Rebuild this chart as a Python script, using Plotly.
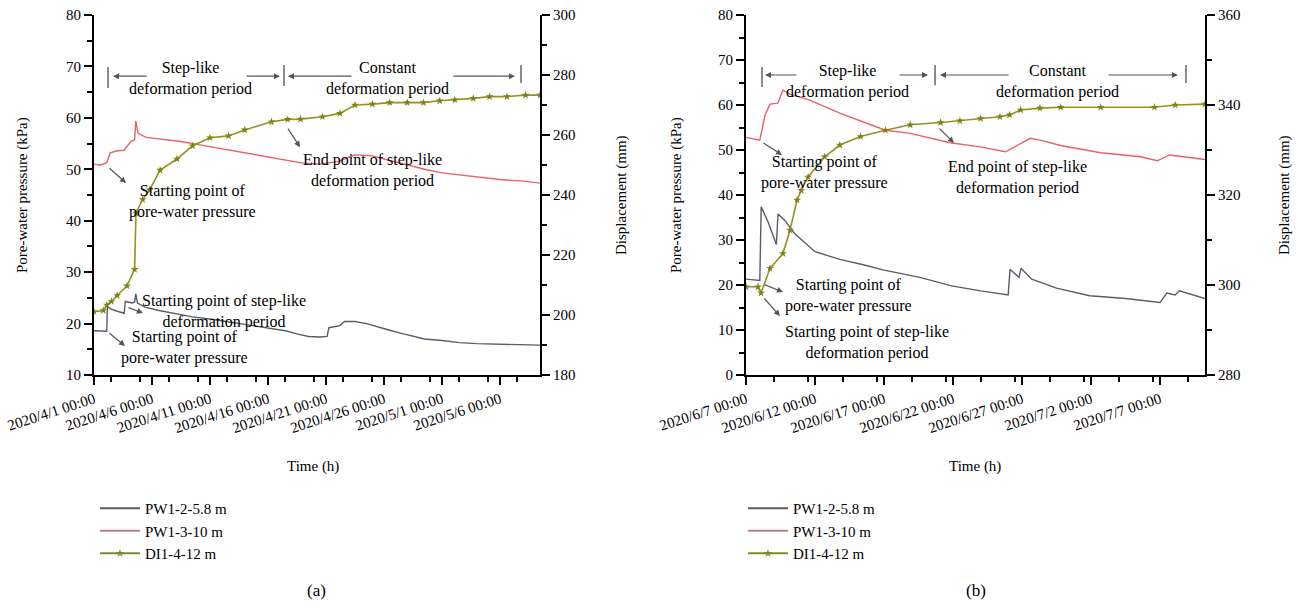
import pandas as pd
import plotly.graph_objects as go

# ---------------- data (elapsed days from panel start, values) ----------------
start_a = "2020-04-01 00:00"
end_a_days = 38.45
start_b = "2020-06-07 00:00"
end_b_days = 33.26

# Panel (a)
pw12_a_days = [0, 1.1, 1.15, 1.5, 2.0, 2.6, 2.7, 3.3, 3.5, 3.6, 3.75, 4.4, 5.5, 7, 8.5, 10, 11.5, 13, 15,
               16.5, 17.5, 18.5, 19.5, 20.1, 20.25, 21.2, 21.6, 22.5, 23.5, 24.5, 25.5, 26.5, 27.5, 28.5,
               30, 31.5, 33, 35, 37, 38.45]
pw12_a_kpa = [18.6, 18.5, 23.3, 22.8, 22.4, 22.0, 24.3, 24.0, 24.2, 25.8, 24.0, 23.2, 22.6, 22.0, 21.3, 20.9,
              20.4, 19.8, 19.2, 18.6, 18.0, 17.5, 17.4, 17.5, 19.2, 19.6, 20.4, 20.4, 20.0, 19.3, 18.7, 18.1,
              17.6, 17.0, 16.7, 16.3, 16.1, 16.0, 15.9, 15.8]

pw13_a_days = [0, 0.5, 1.1, 1.4, 2.0, 2.6, 3.2, 3.5, 3.6, 3.8, 4.5, 6, 7.5, 9, 10.5, 12, 13.5, 15, 16.5, 18,
               19.5, 21, 22.5, 24, 25.5, 27, 28.5, 30, 31.5, 33, 35, 37, 38.45]
pw13_a_kpa = [51.0, 50.8, 51.3, 53.2, 53.6, 53.7, 55.5, 55.7, 59.4, 57.0, 56.2, 55.8, 55.4, 54.8, 54.2, 53.6,
              53.0, 52.5, 51.8, 51.2, 51.0, 51.5, 52.8, 52.6, 51.7, 50.8, 50.0, 49.3, 48.9, 48.5, 48.0, 47.7,
              47.3]

di14_a_days = [0, 0.8, 1.1, 1.5, 2.0, 2.84, 3.5, 3.62, 4.2, 4.8, 5.7, 7.15, 8.5, 10, 11.6, 13, 15.3, 16.7,
               17.8, 19.7, 21.2, 22.5, 24, 25.5, 27, 28.4, 29.8, 31.1, 32.7, 34.1, 35.6, 37.2, 38.45]
di14_a_mm = [201.1, 201.5, 203.3, 204.5, 206.5, 209.7, 215.2, 234.0, 238.5, 241.7, 248.3, 252.0, 256.4, 259.1,
             259.7, 261.7, 264.4, 265.2, 265.3, 266.1, 267.2, 270.0, 270.3, 270.8, 270.8, 270.8, 271.4, 271.7,
             272.2, 272.8, 272.8, 273.3, 273.3]

# Panel (b)
pw12_b_days = [0, 1.0, 1.1, 1.6, 2.2, 2.32, 2.8, 3.5, 5, 6.8, 8.5, 10, 12.6, 14.9, 17, 18.0, 19.0, 19.13,
               19.78, 19.93, 20.7, 22.5, 24.9, 27.5, 29.6, 30.0, 30.5, 31.1, 31.4, 33.26]
pw12_b_kpa = [21.3, 21.0, 37.4, 34.0, 29.0, 35.8, 34.4, 31.5, 27.4, 25.7, 24.5, 23.3, 21.7, 19.8, 18.7, 18.2,
              17.8, 23.5, 21.7, 23.7, 21.3, 19.3, 17.6, 17.0, 16.3, 16.1, 18.2, 17.8, 18.7, 17.0]

pw13_b_days = [0, 1.0, 1.38, 1.74, 2.3, 2.68, 3.2, 4.6, 6.8, 9.0, 10.1, 11.9, 14.8, 17.0, 18.8, 20.6, 21.3,
               22.8, 25.7, 28.6, 29.8, 30.7, 33.26]
pw13_b_kpa = [52.8, 52.2, 57.8, 60.2, 60.4, 63.3, 62.4, 61.1, 58.2, 55.6, 54.4, 53.7, 51.6, 50.7, 49.6, 52.6,
              52.2, 51.0, 49.4, 48.5, 47.6, 48.9, 47.9]

di14_b_days = [0, 0.87, 1.09, 1.74, 2.68, 3.19, 3.7, 4.0, 4.5, 5.7, 6.8, 8.3, 10.1, 11.9, 14.1, 15.5, 17.0,
               18.4, 19.1, 19.9, 21.3, 22.8, 25.7, 29.6, 31.1, 33.26]
di14_b_mm = [299.6, 299.6, 298.2, 303.7, 307.0, 312.2, 318.9, 321.0, 324.0, 328.5, 331.1, 333.0, 334.4, 335.6,
             336.1, 336.5, 337.0, 337.4, 337.8, 338.9, 339.3, 339.5, 339.5, 339.5, 340.0, 340.2]

series_names = ["PW1-2-5.8 m", "PW1-3-10 m", "DI1-4-12 m"]

# ---------------- helpers ----------------
W, H = 1299, 608
FONT = "Liberation Serif"
TXT = 16
C_GRAY, C_RED, C_OLIVE = "#575d6a", "#e8606c", "#939420"
L_GRAY, L_RED, L_OLIVE = "#5c5c5c", "#b7808e", "#7c8a2c"


def t(base, days):
    return pd.Timestamp(base) + pd.to_timedelta(days, unit="D")


def ts(base, days):
    return t(base, days).strftime("%Y-%m-%d %H:%M:%S")


fig = go.Figure()

# panel a
fig.add_trace(go.Scatter(x=t(start_a, pw12_a_days), y=pw12_a_kpa, mode="lines", line=dict(color=C_GRAY, width=1.4),
                         xaxis="x", yaxis="y", showlegend=False))
fig.add_trace(go.Scatter(x=t(start_a, pw13_a_days), y=pw13_a_kpa, mode="lines", line=dict(color=C_RED, width=1.4),
                         xaxis="x", yaxis="y", showlegend=False))
fig.add_trace(go.Scatter(x=t(start_a, di14_a_days), y=di14_a_mm, mode="lines+markers",
                         line=dict(color=C_OLIVE, width=1.6),
                         marker=dict(symbol="star", size=6, color="#7f7f16"),
                         xaxis="x", yaxis="y2", showlegend=False))
# panel b
fig.add_trace(go.Scatter(x=t(start_b, pw12_b_days), y=pw12_b_kpa, mode="lines", line=dict(color=C_GRAY, width=1.4),
                         xaxis="x2", yaxis="y3", showlegend=False))
fig.add_trace(go.Scatter(x=t(start_b, pw13_b_days), y=pw13_b_kpa, mode="lines", line=dict(color=C_RED, width=1.4),
                         xaxis="x2", yaxis="y3", showlegend=False))
fig.add_trace(go.Scatter(x=t(start_b, di14_b_days), y=di14_b_mm, mode="lines+markers",
                         line=dict(color=C_OLIVE, width=1.6),
                         marker=dict(symbol="star", size=6, color="#7f7f16"),
                         xaxis="x2", yaxis="y4", showlegend=False))

# legend entries
for lg, xa, ya in (("legend", "x", "y"), ("legend2", "x2", "y3")):
    for name, col, mk in zip(series_names, (L_GRAY, L_RED, L_OLIVE), (False, False, True)):
        fig.add_trace(go.Scatter(x=[None], y=[None], name=name, legend=lg, xaxis=xa, yaxis=ya,
                                 mode="lines+markers" if mk else "lines",
                                 line=dict(color=col, width=2),
                                 marker=dict(symbol="star", size=6, color=col)))

ydom = [1 - 375 / H, 1 - 15 / H]
xa_dom = [94 / W, 540 / W]
xb_dom = [746 / W, 1205 / W]

axis_common = dict(showline=True, linecolor="black", linewidth=2, ticks="outside", ticklen=8, tickwidth=2,
                   tickcolor="black", showgrid=False, zeroline=False, automargin=False,
                   tickfont=dict(family=FONT, size=15, color="black"))


def xaxis(dom, base, end_days, anchor):
    return dict(axis_common, domain=dom, anchor=anchor, range=[ts(base, 0), ts(base, end_days)],
                type="date", tick0=ts(base, 0), dtick=5 * 86400000, tickformat="%Y/%-m/%-d %H:%M",
                tickangle=-18,
                minor=dict(dtick=2.5 * 86400000, ticks="outside", ticklen=5, tickwidth=2, tickcolor="black",
                           showgrid=False))


def yaxis(rng, dt, mdt, anchor, **kw):
    return dict(axis_common, range=rng, dtick=dt, tick0=0, anchor=anchor,
                minor=dict(dtick=mdt, ticks="outside", ticklen=5, tickwidth=2, tickcolor="black",
                           showgrid=False), **kw)


leg = dict(xanchor="left", yanchor="top", bgcolor="rgba(0,0,0,0)",
           font=dict(family=FONT, size=15, color="black"), itemwidth=40)

fig.update_layout(
    width=W, height=H,
    margin=dict(l=0, r=0, t=0, b=0),
    paper_bgcolor="white", plot_bgcolor="white",
    font=dict(family=FONT, size=TXT, color="black"),
    xaxis=xaxis(xa_dom, start_a, end_a_days, "y"),
    yaxis=yaxis([10, 80], 10, 5, "x", domain=ydom),
    yaxis2=yaxis([180, 300], 20, 10, "x", overlaying="y", side="right"),
    xaxis2=xaxis(xb_dom, start_b, end_b_days, "y3"),
    yaxis3=yaxis([0, 80], 10, 5, "x2", domain=ydom),
    yaxis4=yaxis([280, 360], 20, 10, "x2", overlaying="y3", side="right"),
    legend=dict(leg, x=95 / W, y=1 - 492 / H),
    legend2=dict(leg, x=743 / W, y=1 - 492 / H),
)

ann = []
shapes = []


def text(xr, yr, x, y, s, **kw):
    ann.append(dict(xref=xr, yref=yr, x=x, y=y, text=s, showarrow=False,
                    font=dict(family=FONT, size=TXT, color="black"), **kw))


def arrow(xr, yr, x0, y0, x1, y1, col="#555555"):
    ann.append(dict(xref=xr, yref=yr, axref=xr, ayref=yr, x=x1, y=y1, ax=x0, ay=y0, text="", showarrow=True,
                    arrowhead=2, arrowsize=1, arrowwidth=1.2, arrowcolor=col))


def bar(xr, yr, x, y0, y1):
    shapes.append(dict(type="line", xref=xr, yref=yr, x0=x, x1=x, y0=y0, y1=y1,
                       line=dict(color="#666666", width=1.5)))


# ---- panel (a) annotations
A = start_a
bar("x", "y", ts(A, 1.21), 65.8, 69.9)
arrow("x", "y", ts(A, 4.66), 68.1, ts(A, 1.64), 68.1)
text("x", "y", ts(A, 8.36), 67.75, "Step-like<br>deformation period")
arrow("x", "y", ts(A, 13.02), 68.1, ts(A, 16.03), 68.1)
bar("x", "y", ts(A, 16.38), 66.2, 70.3)
arrow("x", "y", ts(A, 22.33), 68.1, ts(A, 16.72), 68.1)
text("x", "y", ts(A, 25.34), 67.75, "Constant<br>deformation period")
arrow("x", "y", ts(A, 30.86), 68.1, ts(A, 36.29), 68.1)
bar("x", "y", ts(A, 36.81), 66.8, 70.3)
text("x", "y", ts(A, 24.05), 49.86, "End point of step-like<br>deformation period")
arrow("x", "y", ts(A, 16.64), 58.2, ts(A, 17.76), 54.3)
text("x", "y", ts(A, 8.45), 43.83, "Starting point of<br>pore-water pressure")
arrow("x", "y", ts(A, 1.21), 50.45, ts(A, 2.76), 47.33)
text("x", "y", ts(A, 11.2), 22.35, "Starting point of step-like<br>deformation period")
arrow("x", "y", ts(A, 2.84), 23.2, ts(A, 4.22), 22.06)
text("x", "y", ts(A, 7.76), 15.3, "Starting point of<br>pore-water pressure")
arrow("x", "y", ts(A, 1.21), 18.36, ts(A, 2.67), 15.64)

# ---- panel (b) annotations
B = start_b
bar("x2", "y3", ts(B, 1.16), 64.0, 68.44)
arrow("x2", "y3", ts(B, 3.77), 66.67, ts(B, 1.38), 66.67)
text("x2", "y3", ts(B, 7.39), 65.33, "Step-like<br>deformation period")
arrow("x2", "y3", ts(B, 11.01), 66.67, ts(B, 13.19), 66.67)
bar("x2", "y3", ts(B, 13.7), 64.4, 68.9)
arrow("x2", "y3", ts(B, 19.13), 66.67, ts(B, 14.06), 66.67)
text("x2", "y3", ts(B, 22.6), 65.33, "Constant<br>deformation period")
arrow("x2", "y3", ts(B, 26.16), 66.67, ts(B, 31.3), 66.67)
bar("x2", "y3", ts(B, 31.88), 64.9, 68.9)
text("x2", "y3", ts(B, 19.64), 44.0, "End point of step-like<br>deformation period")
arrow("x2", "y3", ts(B, 13.91), 55.1, ts(B, 15.07), 51.56)
text("x2", "y3", ts(B, 5.72), 45.1, "Starting point of<br>pore-water pressure")
arrow("x2", "y3", ts(B, 1.16), 51.78, ts(B, 2.61), 48.9)
text("x2", "y3", ts(B, 7.46), 17.56, "Starting point of<br>pore-water pressure")
arrow("x2", "y3", ts(B, 1.23), 20.22, ts(B, 2.68), 18.44)
text("x2", "y3", ts(B, 8.77), 7.33, "Starting point of step-like<br>deformation period")
arrow("x2", "y3", ts(B, 1.23), 17.33, ts(B, 2.46), 13.11)


# ---- axis titles and panel labels (paper coords)
def ptext(px, py, s, angle=0, size=15):
    ann.append(dict(xref="paper", yref="paper", x=px / W, y=1 - py / H, text=s, showarrow=False,
                    textangle=angle, xanchor="center", yanchor="middle",
                    font=dict(family=FONT, size=size, color="black")))


ptext(22, 195, "Pore-water pressure (kPa)", -90)
ptext(621, 195, "Displacement (mm)", -90)
ptext(676, 195, "Pore-water pressure (kPa)", -90)
ptext(1284, 195, "Displacement (mm)", -90)
ptext(313, 466, "Time (h)")
ptext(975, 466, "Time (h)")
ptext(316, 590, "(a)", size=17)
ptext(976, 590, "(b)", size=17)

fig.update_layout(annotations=ann, shapes=shapes)
fig.write_html("out.html")
